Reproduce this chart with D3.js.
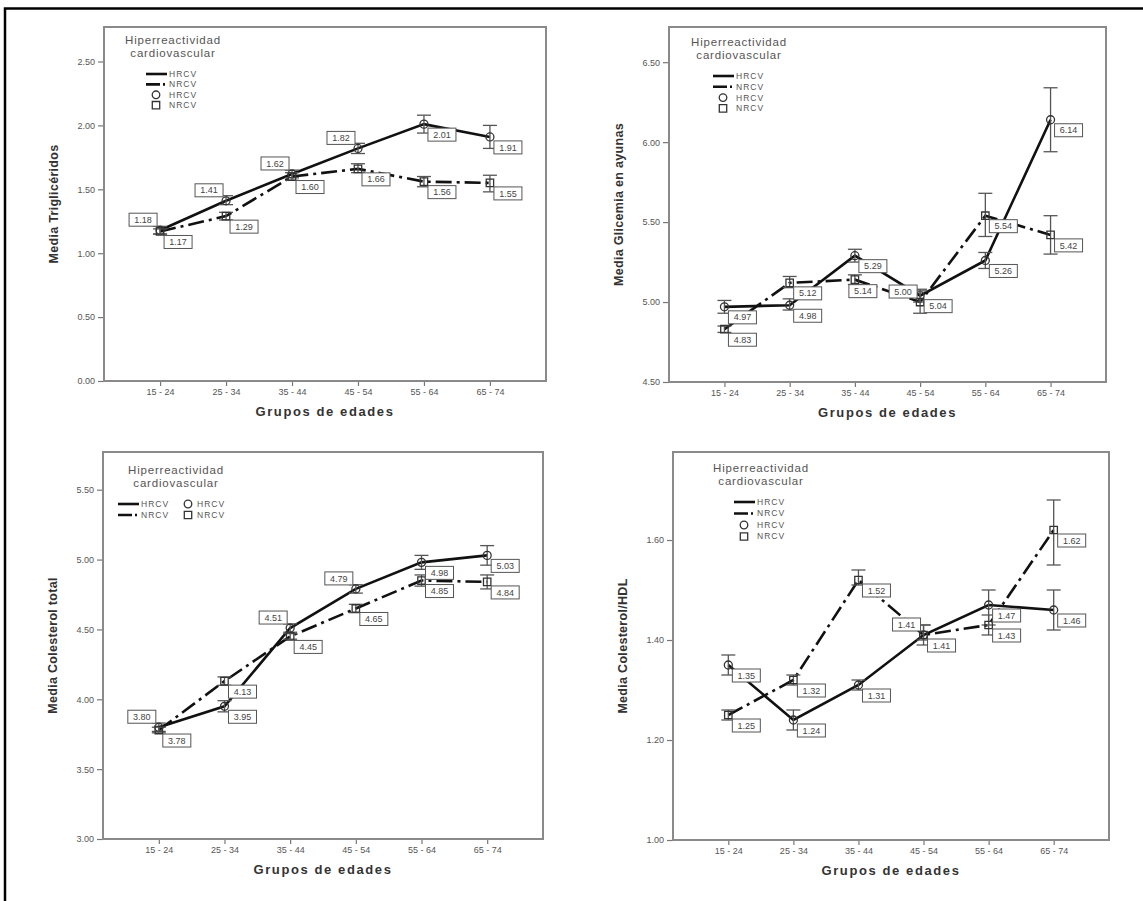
<!DOCTYPE html>
<html>
<head>
<meta charset="utf-8">
<script src="https://cdn.jsdelivr.net/npm/d3@7"></script>
<style>
	body { margin:0; background:#fff; }
	svg { display:block; font-family: Arial, 'Liberation Sans', sans-serif; }
	.mp-tick text { fill:#555; font-size:9px; }
	.mp-tick line { stroke:#777; stroke-width:1.2; }
	.mp-frame { fill:none; stroke:#8a8a8a; stroke-width:2; }
	.mp-title-y { fill:#333; font-size:12.5px; font-weight:bold; letter-spacing:0.3px; }
	.mp-title-x { fill:#333; font-size:13px; font-weight:bold; letter-spacing:1.6px; }
	.mp-legend-title { fill:#555; font-size:11.5px; letter-spacing:0.8px; }
	.mp-legend-text { fill:#555; font-size:8.5px; letter-spacing:1px; }
	.mp-line { fill:none; stroke:#111; stroke-width:2.6; }
	.mp-err { stroke:#555; stroke-width:1.3; fill:none; }
	.mp-marker { fill:none; stroke:#333; stroke-width:1.3; }
	.mp-label-box { fill:#fff; stroke:#555; stroke-width:1; }
	.mp-label-text { fill:#444; font-size:9px; }
</style>
</head>
<body>
<svg id="chart" width="1143" height="901"></svg>
<script>

// categories
var aGroups = ['15 - 24','25 - 34','35 - 44','45 - 54','55 - 64','65 - 74'];
var aSeriesNames = ['HRCV','NRCV'];

// Media Triglicéridos
var aTrigHR    = [1.18, 1.41, 1.62, 1.82, 2.01, 1.91];
var aTrigHRLo  = [1.15, 1.38, 1.59, 1.78, 1.94, 1.82];
var aTrigHRHi  = [1.21, 1.45, 1.65, 1.86, 2.08, 2.00];
var aTrigNR    = [1.17, 1.29, 1.60, 1.66, 1.56, 1.55];
var aTrigNRLo  = [1.15, 1.26, 1.57, 1.63, 1.52, 1.48];
var aTrigNRHi  = [1.19, 1.32, 1.63, 1.70, 1.60, 1.61];
var aTrigTicks = [0, 0.5, 1.0, 1.5, 2.0, 2.5];

// Media Glicemia en ayunas
var aGlicHR    = [4.97, 4.98, 5.29, 5.04, 5.26, 6.14];
var aGlicHRLo  = [4.93, 4.95, 5.25, 5.00, 5.21, 5.94];
var aGlicHRHi  = [5.01, 5.02, 5.33, 5.08, 5.31, 6.34];
var aGlicNR    = [4.83, 5.12, 5.14, 5.00, 5.54, 5.42];
var aGlicNRLo  = [4.81, 5.09, 5.11, 4.93, 5.41, 5.30];
var aGlicNRHi  = [4.85, 5.16, 5.17, 5.07, 5.68, 5.54];
var aGlicTicks = [4.5, 5.0, 5.5, 6.0, 6.5];

// Media Colesterol total
var aColHR    = [3.80, 3.95, 4.51, 4.79, 4.98, 5.03];
var aColHRLo  = [3.77, 3.91, 4.48, 4.76, 4.93, 4.96];
var aColHRHi  = [3.83, 3.99, 4.54, 4.82, 5.03, 5.10];
var aColNR    = [3.78, 4.13, 4.45, 4.65, 4.85, 4.84];
var aColNRLo  = [3.76, 4.10, 4.43, 4.62, 4.81, 4.79];
var aColNRHi  = [3.80, 4.16, 4.47, 4.68, 4.89, 4.89];
var aColTicks = [3.0, 3.5, 4.0, 4.5, 5.0, 5.5];

// Media Colesterol/HDL
var aHdlHR    = [1.35, 1.24, 1.31, 1.41, 1.47, 1.46];
var aHdlHRLo  = [1.33, 1.22, 1.30, 1.39, 1.43, 1.42];
var aHdlHRHi  = [1.37, 1.26, 1.32, 1.43, 1.50, 1.50];
var aHdlNR    = [1.25, 1.32, 1.52, 1.41, 1.43, 1.62];
var aHdlNRLo  = [1.24, 1.31, 1.51, 1.40, 1.41, 1.55];
var aHdlNRHi  = [1.26, 1.33, 1.54, 1.43, 1.45, 1.68];
var aHdlTicks = [1.0, 1.2, 1.4, 1.6];

// which side of the point each value label sits (ul = upper left, lr = lower right, b = below)
var aTrigHRSide = ['ul','ul','ul','ul','lr','lr'];
var aTrigNRSide = ['lr','lr','lr','lr','lr','lr'];
var aGlicHRSide = ['lr','lr','lr','lr','lr','lr'];
var aGlicNRSide = ['lr','lr','b','ul','lr','lr'];
var aColHRSide  = ['ul','lr','ul','ul','lr','lr'];
var aColNRSide  = ['lr','lr','lr','lr','lr','lr'];
var aHdlHRSide  = ['lr','lr','lr','lr','lr','lr'];
var aHdlNRSide  = ['lr','lr','lr','ul','lr','lr'];


function DrawMeansPanel(sSvg, aProps)
{
	var nLeft = aProps.box[0];
	var nTop = aProps.box[1];
	var nRight = aProps.box[2];
	var nBottom = aProps.box[3];

	const nBoxW = 28;
	const nBoxH = 13;

	var scaleX = d3.scalePoint()
		.domain(aGroups)
		.range([nLeft, nRight])
		.padding(0.85);

	var scaleY = d3.scaleLinear()
		.domain(aProps.domain)
		.range([nBottom, nTop]);

	var sChart = sSvg.append('g').attr('class','mp-panel');

	// axes
	var axisY = d3.axisLeft(scaleY)
		.tickValues(aProps.ticks)
		.tickFormat(d3.format('.2f'))
		.tickSize(6)
		.tickPadding(3);

	var sAxisY = sChart.append('g')
		.attr('class','mp-tick')
		.attr('transform','translate('+nLeft+',0)')
		.call(axisY);
	sAxisY.select('.domain').remove();

	var axisX = d3.axisBottom(scaleX)
		.tickSize(5)
		.tickPadding(3);

	var sAxisX = sChart.append('g')
		.attr('class','mp-tick')
		.attr('transform','translate(0,'+nBottom+')')
		.call(axisX);
	sAxisX.select('.domain').remove();

	sChart.selectAll('.mp-tick text').attr('font-family', null).attr('font-size', null);

	sChart.append('rect')
		.attr('class','mp-frame')
		.attr('x', nLeft)
		.attr('y', nTop)
		.attr('width', nRight-nLeft)
		.attr('height', nBottom-nTop);

	// axis titles
	sChart.append('text')
		.attr('class','mp-title-x')
		.attr('x', (nLeft+nRight)/2)
		.attr('y', nBottom+35)
		.attr('text-anchor','middle')
		.text('Grupos de edades');

	sChart.append('text')
		.attr('class','mp-title-y')
		.attr('transform','translate('+(nLeft-46)+','+((nTop+nBottom)/2)+') rotate(-90)')
		.attr('text-anchor','middle')
		.text(aProps.titleY);

	var aSeries = aProps.series;

	// lines
	aSeries.forEach(function(oSeries)
		{
			var line = d3.line()
				.x(function(d,i) { return scaleX(aGroups[i]); })
				.y(function(d) { return scaleY(d); });

			sChart.append('path')
				.attr('class','mp-line')
				.attr('stroke-dasharray', oSeries.dash)
				.attr('d', line(oSeries.values));
		});

	// error bars + markers
	aSeries.forEach(function(oSeries)
		{
			var sErr = sChart.append('g').selectAll('g')
				.data(oSeries.values)
				.enter()
					.append('g')
						.attr('class','mp-err');

			sErr.append('line')
				.attr('x1', function(d,i) { return scaleX(aGroups[i]); })
				.attr('x2', function(d,i) { return scaleX(aGroups[i]); })
				.attr('y1', function(d,i) { return scaleY(oSeries.lo[i]); })
				.attr('y2', function(d,i) { return scaleY(oSeries.hi[i]); });
			sErr.append('line')
				.attr('x1', function(d,i) { return scaleX(aGroups[i])-7; })
				.attr('x2', function(d,i) { return scaleX(aGroups[i])+7; })
				.attr('y1', function(d,i) { return scaleY(oSeries.lo[i]); })
				.attr('y2', function(d,i) { return scaleY(oSeries.lo[i]); });
			sErr.append('line')
				.attr('x1', function(d,i) { return scaleX(aGroups[i])-7; })
				.attr('x2', function(d,i) { return scaleX(aGroups[i])+7; })
				.attr('y1', function(d,i) { return scaleY(oSeries.hi[i]); })
				.attr('y2', function(d,i) { return scaleY(oSeries.hi[i]); });

			var symbol = d3.symbol()
				.type(oSeries.marker == 'circle' ? d3.symbolCircle : d3.symbolSquare)
				.size(oSeries.marker == 'circle' ? 50 : 55);

			sChart.append('g').selectAll('path')
				.data(oSeries.values)
				.enter()
					.append('path')
						.attr('class','mp-marker')
						.attr('d', symbol)
						.attr('transform', function(d,i)
							{
								return 'translate('+scaleX(aGroups[i])+','+scaleY(d)+')';
							});
		});

	// value labels
	aSeries.forEach(function(oSeries)
		{
			var sLabels = sChart.append('g').selectAll('g')
				.data(oSeries.values)
				.enter()
					.append('g')
						.attr('transform', function(d,i)
							{
								var nX = scaleX(aGroups[i]);
								var nY = scaleY(d);
								var strSide = oSeries.side[i];
								if (strSide == 'ul')
								{
									nX = nX - 3 - nBoxW;
									nY = nY - 4 - nBoxH;
								}
								else if (strSide == 'b')
								{
									nX = nX - 6;
									nY = nY + 5;
								}
								else
								{
									nX = nX + 4;
									nY = nY + 4;
								}
								return 'translate('+nX+','+nY+')';
							});

			sLabels.append('rect')
				.attr('class','mp-label-box')
				.attr('width', nBoxW)
				.attr('height', nBoxH);

			sLabels.append('text')
				.attr('class','mp-label-text')
				.attr('x', nBoxW/2)
				.attr('y', nBoxH/2)
				.attr('dy','0.35em')
				.attr('text-anchor','middle')
				.text(function(d) { return d3.format('.2f')(d); });
		});

	// legend
	var oLeg = aProps.legend;
	var sLegend = sChart.append('g')
		.attr('transform','translate('+(nLeft+oLeg.dx)+','+(nTop+oLeg.dy)+')');

	sLegend.append('text')
		.attr('class','mp-legend-title')
		.attr('x', oLeg.titleX)
		.attr('y', 0)
		.attr('text-anchor','middle')
		.text('Hiperreactividad');
	sLegend.append('text')
		.attr('class','mp-legend-title')
		.attr('x', oLeg.titleX)
		.attr('y', 13)
		.attr('text-anchor','middle')
		.text('cardiovascular');

	var aItems = [];
	aSeries.forEach(function(oSeries) { aItems.push({kind:'line', series:oSeries}); });
	aSeries.forEach(function(oSeries) { aItems.push({kind:'marker', series:oSeries}); });

	aItems.forEach(function(oItem, i)
		{
			var nX, nY;
			if (oLeg.grid == true)
			{
				nX = (oItem.kind == 'line') ? 0 : 67;
				nY = 30 + (i % 2)*11;
			}
			else
			{
				nX = 0;
				nY = 30 + i*oLeg.step;
			}
			var sItem = sLegend.append('g').attr('transform','translate('+nX+','+nY+')');
			if (oItem.kind == 'line')
			{
				sItem.append('line')
					.attr('class','mp-line')
					.attr('x1', 0).attr('x2', 21)
					.attr('y1', 0).attr('y2', 0)
					.attr('stroke-dasharray', oItem.series.dash == null ? null : '14,3,2,3');
			}
			else
			{
				var symbol = d3.symbol()
					.type(oItem.series.marker == 'circle' ? d3.symbolCircle : d3.symbolSquare)
					.size(oItem.series.marker == 'circle' ? 45 : 55);
				sItem.append('path')
					.attr('class','mp-marker')
					.attr('stroke','#555')
					.attr('d', symbol)
					.attr('transform','translate('+(oLeg.grid ? 3 : 10)+',0)');
			}
			sItem.append('text')
				.attr('class','mp-legend-text')
				.attr('x', (oItem.kind == 'marker' && oLeg.grid) ? 12 : 23)
				.attr('y', 0)
				.attr('dy','0.35em')
				.text(oItem.series.name);
		});
}


var sSvg = d3.select('#chart');

// outer frame of the figure (top and left edge)
sSvg.append('path')
	.attr('d', d3.line()([[5,901],[5,8.5],[1143,8.5]]))
	.attr('fill','none')
	.attr('stroke','#000')
	.attr('stroke-width',2.5);

function MakeSeries(aHR, aHRLo, aHRHi, aHRSide, aNR, aNRLo, aNRHi, aNRSide)
{
	return [
		{name:aSeriesNames[0], values:aHR, lo:aHRLo, hi:aHRHi, side:aHRSide, dash:null, marker:'circle'},
		{name:aSeriesNames[1], values:aNR, lo:aNRLo, hi:aNRHi, side:aNRSide, dash:'16,5,3,5', marker:'square'}
	];
}

DrawMeansPanel(sSvg, {
	box:[104, 27, 546, 381],
	domain:[0, 2.77],
	ticks:aTrigTicks,
	titleY:'Media Triglicéridos',
	series:MakeSeries(aTrigHR, aTrigHRLo, aTrigHRHi, aTrigHRSide, aTrigNR, aTrigNRLo, aTrigNRHi, aTrigNRSide),
	legend:{dx:42, dy:17, titleX:27, step:10.4, grid:false}
});

DrawMeansPanel(sSvg, {
	box:[669, 27, 1106, 382],
	domain:[4.5, 6.72],
	ticks:aGlicTicks,
	titleY:'Media Glicemia en ayunas',
	series:MakeSeries(aGlicHR, aGlicHRLo, aGlicHRHi, aGlicHRSide, aGlicNR, aGlicNRLo, aGlicNRHi, aGlicNRSide),
	legend:{dx:44, dy:19, titleX:26, step:10.8, grid:false}
});

DrawMeansPanel(sSvg, {
	box:[103, 452, 543, 839],
	domain:[3.0, 5.77],
	ticks:aColTicks,
	titleY:'Media Colesterol total',
	series:MakeSeries(aColHR, aColHRLo, aColHRHi, aColHRSide, aColNR, aColNRLo, aColNRHi, aColNRSide),
	legend:{dx:15, dy:22, titleX:58, step:11, grid:true}
});

DrawMeansPanel(sSvg, {
	box:[673, 452, 1109, 840],
	domain:[1.0, 1.776],
	ticks:aHdlTicks,
	titleY:'Media Colesterol/HDL',
	series:MakeSeries(aHdlHR, aHdlHRLo, aHdlHRHi, aHdlHRSide, aHdlNR, aHdlNRLo, aHdlNRHi, aHdlNRSide),
	legend:{dx:61, dy:20, titleX:27, step:11.5, grid:false}
});

</script>
</body>
</html>
